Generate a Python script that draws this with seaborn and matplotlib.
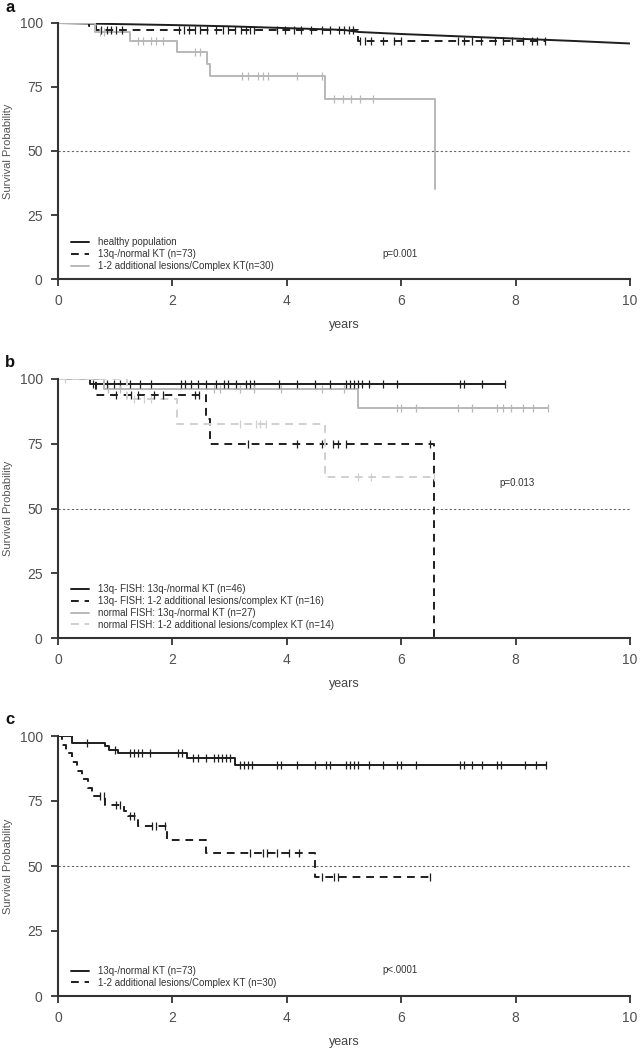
import numpy as np
import matplotlib
matplotlib.use("Agg")
import matplotlib.pyplot as plt
import seaborn as sns

# ---- panel a ----
a_healthy_t = [0, 1, 2, 3, 4, 5, 5.25, 6, 7, 8, 9, 10]
a_healthy_s = [100, 99.6, 99.2, 98.7, 98.0, 97.3, 96.5, 95.7, 94.8, 93.9, 93.0, 92.0]

a_13q_t = [0, 0.55, 0.67, 5.25, 8.51]
a_13q_s = [100, 99.0, 97.4, 92.8, 92.8]
a_13q_cens = [0.76, 0.85, 0.92, 1.01, 1.12, 2.12, 2.2, 2.29, 2.39, 2.49, 2.61, 2.76, 2.88,
              2.98, 3.1, 3.2, 3.29, 3.36, 3.43, 3.82, 3.97, 4.12, 4.24, 4.43, 4.61, 4.75,
              4.91, 5.0, 5.09, 5.16, 5.28, 5.37, 5.48, 5.68, 5.88, 6.0, 6.99, 7.1, 7.24,
              7.39, 7.64, 7.78, 7.94, 8.13, 8.28, 8.38, 8.51]

a_cx_t = [0, 0.65, 1.26, 2.08, 2.6, 2.66, 4.66, 6.59]
a_cx_s = [100, 96.6, 93.1, 88.5, 84.0, 79.3, 70.5, 35.0]
a_cx_cens = [0.73, 0.8, 1.4, 1.49, 1.62, 1.72, 1.84, 2.4, 2.49, 3.22, 3.33, 3.5, 3.58,
             3.68, 4.18, 4.61, 4.82, 4.98, 5.12, 5.28, 5.5]

# ---- panel b ----
b_13n_t = [0, 0.56, 7.81]
b_13n_s = [100, 97.9, 97.9]
b_13n_cens = [0.62, 0.85, 0.98, 1.08, 1.25, 1.44, 1.62, 2.15, 2.22, 2.33, 2.44, 2.58, 2.76,
              2.9, 2.98, 3.11, 3.29, 3.36, 3.43, 3.86, 4.18, 4.5, 4.75, 5.04, 5.11, 5.18,
              5.25, 5.32, 5.43, 5.68, 5.93, 7.03, 7.1, 7.42, 7.81]

b_13c_t = [0, 0.66, 2.59, 2.66, 6.57]
b_13c_s = [100, 93.8, 84.4, 75.0, 0]
b_13c_cens = [1.01, 1.27, 1.4, 1.67, 1.83, 2.39, 2.47, 3.33, 4.17, 4.61, 4.81, 4.89,
              5.04, 6.5]

b_nn_t = [0, 0.8, 5.25, 8.56]
b_nn_s = [100, 96.3, 88.9, 88.9]
b_nn_cens = [0.87, 1.08, 2.72, 2.83, 3.18, 3.43, 3.9, 4.61, 5.0, 5.93, 6.0, 6.25, 6.99,
             7.24, 7.67, 7.78, 7.92, 8.13, 8.31, 8.56]

b_nc_t = [0, 1.2, 2.08, 4.66, 6.59]
b_nc_s = [100, 92.3, 82.5, 62.0, 62.0]
b_nc_cens = [0.12, 1.33, 1.51, 1.63, 3.18, 3.47, 3.54, 3.63, 5.25, 5.48, 6.57]

# ---- panel c ----
c_13q_t = [0, 0.25, 0.83, 0.9, 1.05, 2.26, 3.09, 8.53]
c_13q_s = [100, 97.4, 96.3, 94.7, 93.3, 91.5, 89.0, 89.0]
c_13q_cens = [0.51, 1.0, 1.26, 1.33, 1.4, 1.47, 1.6, 2.1, 2.17, 2.36, 2.44, 2.58, 2.72,
              2.79, 2.86, 2.93, 3.01, 3.18, 3.25, 3.33, 3.4, 3.82, 3.9, 4.18, 4.5, 4.68,
              4.75, 5.04, 5.11, 5.18, 5.25, 5.43, 5.68, 5.93, 6.0, 6.25, 7.03, 7.1, 7.24,
              7.42, 7.67, 7.74, 8.17, 8.35, 8.53]

c_cx_t = [0, 0.07, 0.14, 0.25, 0.33, 0.42, 0.52, 0.6, 0.83, 1.15, 1.22, 1.4, 1.9, 2.58,
          4.5, 6.5]
c_cx_s = [100, 96.7, 93.3, 90.0, 86.7, 83.3, 80.0, 76.8, 73.3, 71.2, 69.3, 65.2, 60.0,
          54.9, 45.6, 45.6]
c_cx_cens = [0.73, 0.8, 1.01, 1.08, 1.26, 1.32, 1.65, 1.72, 1.87, 3.36, 3.58, 3.65, 3.82,
             4.04, 4.22, 4.61, 4.82, 4.89, 6.5]

BLACK = "#1e1e1e"
GRAY = "#b8b8b8"
LGRAY = "#d0d0d0"
SOLID = "-"
DASH = (0, (4, 3))


def step_value(t, s, x):
    """Survival value of a step curve at time x."""
    idx = np.searchsorted(np.asarray(t), x, side="right") - 1
    return np.asarray(s)[idx]


def km(ax, t, s, cens, color, ls, label, lw=1.4):
    sns.lineplot(x=t, y=s, ax=ax, color=color, linestyle=ls, linewidth=lw,
                 drawstyle="steps-post", estimator=None, sort=False, label=label)
    if cens:
        cy = [step_value(t, s, c) for c in cens]
        sns.scatterplot(x=cens, y=cy, ax=ax, marker="|", s=40, color=color,
                        linewidth=0.9, legend=False, zorder=3)


def style_axes(ax, ptext, pxy):
    ax.set_xlim(0, 10)
    ax.set_ylim(0, 100)
    ax.set_xticks([0, 2, 4, 6, 8, 10])
    ax.set_yticks([0, 25, 50, 75, 100])
    ax.axhline(50, color="#666666", lw=0.8, ls=(0, (2, 2)), zorder=1)
    for sp in ["top", "right"]:
        ax.spines[sp].set_visible(False)
    for sp in ["left", "bottom"]:
        ax.spines[sp].set_color("#333333")
        ax.spines[sp].set_linewidth(1.5)
    ax.tick_params(axis="both", direction="out", length=5, width=1.3,
                   colors="#333333", labelsize=10, labelcolor="#505050", pad=6)
    ax.set_xlabel("years", fontsize=9, color="#444444", labelpad=8)
    ax.set_ylabel("Survival Probability", fontsize=8, color="#555555")
    ax.yaxis.set_label_coords(-0.079, 0.5)
    ax.text(pxy[0], pxy[1], ptext, fontsize=7, color="#333333", ha="left", va="center")
    ax.legend(loc="lower left", bbox_to_anchor=(0.01, 0.005), frameon=False,
              fontsize=7, handlelength=1.9, handletextpad=0.9, labelspacing=0.2,
              borderaxespad=0.3, labelcolor="#333333")


sns.set_theme(style="ticks")
plt.rcParams["font.family"] = ["Liberation Sans", "DejaVu Sans"]

fig = plt.figure(figsize=(6.4, 10.5), dpi=100)
W = 6.4 * 100
H = 10.5 * 100


def axes_px(x0, x1, ytop, ybot):
    return fig.add_axes([x0 / W, 1 - ybot / H, (x1 - x0) / W, (ybot - ytop) / H])


def letter(txt, ycenter):
    fig.text(5 / W, 1 - ycenter / H, txt, fontsize=12, fontweight="bold",
             color="#111111", va="center", ha="left")


ax_a = axes_px(58, 630, 23, 279)
km(ax_a, a_healthy_t, a_healthy_s, None, BLACK, SOLID, "healthy population")
ax_a.lines[-1].set_drawstyle("default")
km(ax_a, a_13q_t, a_13q_s, a_13q_cens, BLACK, DASH, "13q-/normal KT (n=73)")
km(ax_a, a_cx_t, a_cx_s, a_cx_cens, GRAY, SOLID,
   "1-2 additional lesions/Complex KT(n=30)")
style_axes(ax_a, "p=0.001", (5.68, 9.8))
letter("a", 8)

ax_b = axes_px(58, 630, 379, 638)
km(ax_b, b_13n_t, b_13n_s, b_13n_cens, BLACK, SOLID, "13q- FISH: 13q-/normal KT (n=46)")
km(ax_b, b_13c_t, b_13c_s, b_13c_cens, BLACK, DASH,
   "13q- FISH: 1-2 additional lesions/complex KT (n=16)")
km(ax_b, b_nn_t, b_nn_s, b_nn_cens, GRAY, SOLID, "normal FISH: 13q-/normal KT (n=27)")
km(ax_b, b_nc_t, b_nc_s, b_nc_cens, LGRAY, DASH,
   "normal FISH: 1-2 additional lesions/complex KT (n=14)")
style_axes(ax_b, "p=0.013", (7.71, 59.7))
letter("b", 362)

ax_c = axes_px(58, 630, 736, 996)
km(ax_c, c_13q_t, c_13q_s, c_13q_cens, BLACK, SOLID, "13q-/normal KT (n=73)")
km(ax_c, c_cx_t, c_cx_s, c_cx_cens, BLACK, DASH,
   "1-2 additional lesions/Complex KT (n=30)")
style_axes(ax_c, "p<.0001", (5.68, 10.0))
letter("c", 719)

fig.savefig("out.png", dpi=100)
